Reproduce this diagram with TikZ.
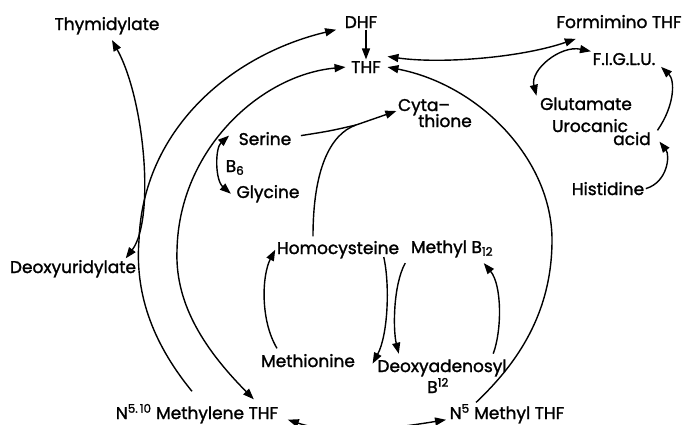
\documentclass[tikz,border=0pt]{standalone}
\usepackage{fontspec}
\setmainfont{Poppins}[FakeBold=1.5]
\usetikzlibrary{arrows.meta}

\begin{document}
\begin{tikzpicture}[x=1pt, y=-1pt, line width=1.4pt,
    font=\fontsize{17}{20}\selectfont,
    lbl/.style={anchor=base, inner sep=1pt},
    arr/.style={-{Triangle[length=11pt, width=8pt]}},
    both/.style={{Triangle[length=11pt, width=8pt]}-{Triangle[length=11pt, width=8pt]}}]
  \useasboundingbox (0,0) rectangle (687,424);
  % metabolites
  \foreach \n/\x/\y/\t in {thy/107/30/Thymidylate, dhf/361/28/DHF,
      thf/366/73/THF, form/619/28/Formimino THF, figlu/624/65/F.I.G.L.U.,
      glu/586/110/Glutamate, uro/590/132/Urocanic, uroacid/632/145/acid,
      his/608/195/Histidine, cyta/424/111/Cyta--, thione/445/127/thione,
      ser/265/145/Serine, bsix/235/172/B\textsubscript{6},
      gly/268/198/Glycine, deoxyu/73/273/Deoxyuridylate,
      homo/338/254/Homocysteine, methb/452/253/Methyl B\textsubscript{12},
      methio/308/367/Methionine, deoxya/442/372/Deoxyadenosyl,
      deoxyab/438/393/B\textsuperscript{12},
      mthf/197/419/N\textsuperscript{5.\,10} Methylene THF,
      nmthf/507/419/N\textsuperscript{5} Methyl THF}
    \node[lbl] (\n) at (\x,\y) {\t};
  \coordinate (join) at (356,125);

  % folate cycle
  \draw[both] ([xshift=5pt,yshift=-4pt]thy.south) .. controls (145,100)
    and (155,220) .. ([xshift=-12pt]deoxyu.north east);
  \draw[arr] ([xshift=-5pt,yshift=11pt]mthf.north) .. controls (150,340)
    and (135,290) .. (139,240) .. controls (143,130) and (230,55)
    .. ([xshift=-7pt]dhf.south west);
  \draw[both] ([xshift=-4pt]thf.west) .. controls (260,75) and (179,150)
    .. (177,250) .. controls (175,300) and (200,345)
    .. ([xshift=-26pt,yshift=3pt]mthf.north east);
  \draw[arr] (dhf.south -| thf.north) -- (thf.north);
  \draw[both] ([xshift=5pt,yshift=3pt]thf.north east) .. controls (440,64)
    and (520,58) .. ([xshift=21pt,yshift=-9pt]form.south west);
  \draw[arr] ([xshift=28pt]nmthf.north west) .. controls (510,370)
    and (552,320) .. (552,240) .. controls (552,160) and (480,85)
    .. ([xshift=5pt]thf.east);
  \draw[both] ([xshift=8pt,yshift=-6pt]mthf.east) .. controls (337,436)
    and (395,428) .. ([xshift=-2pt,yshift=-6pt]nmthf.west);

  % amino acids
  \draw[arr] ([xshift=8pt,yshift=3pt]ser.east) .. controls (330,131)
    .. (join) -- (cyta.base west);
  \draw ([xshift=-25pt,yshift=3pt]homo.north) .. controls (313,170)
    and (330,134) .. (join);
  \draw[both] ([xshift=-8pt,yshift=3pt]ser.west) .. controls (215,148)
    and (215,180) .. ([xshift=-4pt]gly.west);
  \draw[arr] ([xshift=-31pt,yshift=4pt]methio.north) .. controls (260,320)
    and (262,275) .. (homo.west);
  \draw[arr] ([xshift=-17pt,yshift=3pt]homo.south east) .. controls (390,285)
    and (388,335) .. ([xshift=16pt,yshift=-3pt]methio.east);
  \draw[arr] ([xshift=-4pt,yshift=-4pt]methb.south west) .. controls (393,285)
    and (393,330) .. ([xshift=23pt,yshift=4pt]deoxya.north west);
  \draw[arr] ([xshift=-15pt,yshift=4pt]deoxya.north east) .. controls (502,330)
    and (502,285) .. ([xshift=-11pt,yshift=-4pt]methb.south east);

  % histidine
  \draw[both] (figlu.north west) .. controls (560,45) and (530,70)
    .. ([xshift=-2pt]glu.north west);
  \draw[arr] ([xshift=5pt]uroacid.north east) .. controls (675,105)
    and (675,80) .. ([xshift=4pt]figlu.south east);
  \draw[arr] (his.east) .. controls (668,182) and (670,155)
    .. ([xshift=7pt,yshift=-3pt]uroacid.east);
\end{tikzpicture}
\end{document}
